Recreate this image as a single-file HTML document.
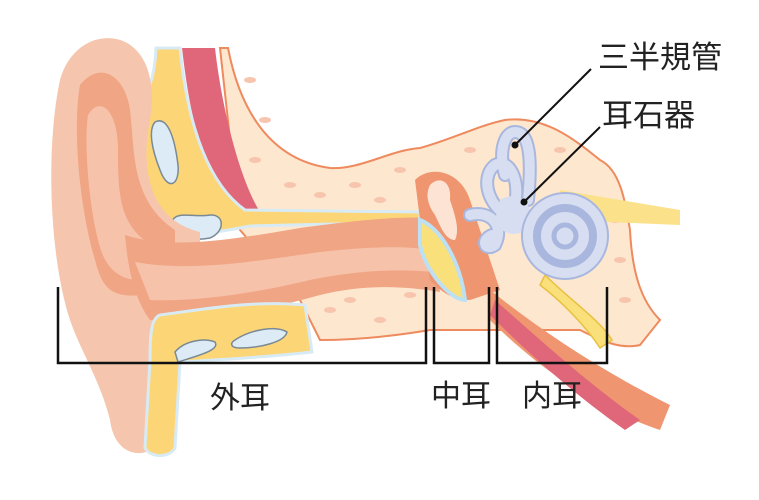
<!DOCTYPE html>
<html><head><meta charset="utf-8"><style>
html,body{margin:0;padding:0;background:#fff;}
svg{display:block;}
text{font-family:"Liberation Sans","Noto Sans CJK JP",sans-serif;fill:#222;}
</style></head><body>
<svg width="759" height="500" viewBox="0 0 759 500" xmlns="http://www.w3.org/2000/svg">
<!-- bone region -->
<path d="M228,48 C240,110 270,160 330,168 C360,170 390,150 420,148 C450,140 480,125 505,120 C545,115 575,140 600,160 C620,170 625,200 630,230 C632,270 640,300 660,320 L640,345 C620,350 600,340 580,330 L430,330 C400,335 360,340 320,340 L300,300 L240,230 L220,48 Z" fill="#fde8cf" stroke="#ee8a5e" stroke-width="2"/>
<g fill="#f7c4ad">
<ellipse cx="250" cy="80" rx="6" ry="3"/><ellipse cx="265" cy="120" rx="6" ry="3"/><ellipse cx="255" cy="160" rx="6" ry="3"/><ellipse cx="290" cy="185" rx="6" ry="3"/><ellipse cx="320" cy="195" rx="6" ry="3"/><ellipse cx="355" cy="185" rx="6" ry="3"/><ellipse cx="380" cy="200" rx="6" ry="3"/><ellipse cx="400" cy="170" rx="6" ry="3"/><ellipse cx="470" cy="150" rx="6" ry="3"/><ellipse cx="560" cy="150" rx="6" ry="3"/><ellipse cx="615" cy="220" rx="6" ry="3"/><ellipse cx="620" cy="260" rx="6" ry="3"/><ellipse cx="625" cy="300" rx="6" ry="3"/><ellipse cx="350" cy="300" rx="6" ry="3"/><ellipse cx="380" cy="320" rx="6" ry="3"/><ellipse cx="330" cy="310" rx="6" ry="3"/><ellipse cx="410" cy="295" rx="6" ry="3"/>
</g>
<!-- top muscle -->
<path d="M182,48 L215,48 C222,110 240,180 260,212 L235,214 C205,180 190,120 182,48 Z" fill="#e0677a"/>
<!-- upper cartilage -->
<path d="M156,48 L180,48 C188,130 210,185 245,210 L420,212 L420,222 L250,226 C200,236 160,240 150,220 C135,190 130,150 135,120 C145,100 155,80 156,48 Z" fill="#fcd676" stroke="#d8ebf5" stroke-width="3"/>
<path d="M155,122 C168,115 175,140 178,165 C180,185 168,192 160,170 C152,150 148,130 155,122 Z" fill="#dcebf5" stroke="#7a8a95" stroke-width="1.5"/>
<path d="M172,222 C175,210 195,218 210,215 C225,214 225,232 210,238 C190,242 170,235 172,222 Z" fill="#dcebf5" stroke="#7a8a95" stroke-width="1.5"/>
<!-- auricle -->
<path d="M95,40 C130,30 160,60 150,120 C140,170 150,220 200,232 L200,300 C175,310 160,360 160,440 C150,460 115,460 110,420 C100,380 80,350 70,320 C50,260 45,150 60,80 C66,58 80,45 95,40 Z" fill="#f6c5ad"/>
<path d="M80,85 C100,60 125,75 130,110 C135,150 130,200 175,230 L175,290 C120,300 105,300 95,260 C80,210 72,130 80,85 Z" fill="#f0a585"/>
<path d="M88,115 C100,95 118,110 118,150 C118,200 120,230 160,250 L160,280 C120,285 105,270 98,240 C88,200 84,140 88,115 Z" fill="#f6c2aa"/>
<!-- ear canal -->
<path d="M125,235 C170,250 230,240 300,228 C360,220 400,216 430,218 L440,292 C400,285 360,285 320,295 C260,312 200,322 150,320 C135,300 128,270 125,235 Z" fill="#f0a585"/>
<path d="M135,262 C190,272 250,262 320,252 C370,246 410,246 430,250 L432,272 C390,268 350,272 310,280 C260,292 200,302 150,300 Z" fill="#f6c2aa"/>
<!-- lower cartilage -->
<path d="M160,315 C200,310 250,300 305,305 L312,352 C260,358 210,360 180,362 L175,448 C170,458 150,458 145,448 L150,360 C150,330 152,318 160,315 Z" fill="#fcd676" stroke="#d8ebf5" stroke-width="3"/>
<path d="M175,352 C185,340 205,338 215,342 C220,350 200,355 178,362 Z" fill="#dcebf5" stroke="#7a8a95" stroke-width="1.5"/>
<path d="M235,340 C250,330 275,325 287,332 C285,342 260,348 240,348 C230,348 230,343 235,340 Z" fill="#dcebf5" stroke="#7a8a95" stroke-width="1.5"/>
<!-- middle ear cavity -->
<path d="M415,180 C430,165 460,170 470,200 C480,230 490,260 500,290 L470,300 C450,300 440,290 430,280 L420,220 Z" fill="#ef9670"/>
<path d="M430,185 C440,175 452,182 450,200 C455,215 460,230 455,240 C445,240 440,225 435,215 C428,205 425,195 430,185 Z" fill="#fde3d3"/>
<!-- eardrum -->
<path d="M420,220 C440,228 460,260 465,300 C450,300 425,270 420,245 Z" fill="#fae07a" stroke="#bde0f2" stroke-width="4"/>
<!-- lower muscle / tube -->
<path d="M490,290 C540,330 600,370 670,405 L660,430 C600,410 540,370 490,320 Z" fill="#ef9670"/>
<path d="M495,300 C540,340 590,385 640,420 L625,430 C575,395 530,355 490,315 Z" fill="#e0677a"/>
<!-- nerve -->
<path d="M545,275 C570,300 600,320 612,340 L600,348 C585,325 560,300 540,285 Z" fill="#fae07a" stroke="#e8c040" stroke-width="1.5"/>
<path d="M560,190 L680,210 L680,225 L560,220 Z" fill="#fbe28a"/>
<!-- canals -->
<g fill="none" stroke="#a9b7de" stroke-width="14" stroke-linecap="round">
<path d="M505,175 C498,150 505,132 515,132 C530,132 532,160 528,200"/>
<path d="M505,215 C485,200 482,175 495,165 C510,158 520,180 515,205"/>
<path d="M470,215 C490,210 505,225 495,245 C485,252 480,240 492,235"/>
</g>
<g fill="none" stroke="#d7def2" stroke-width="10" stroke-linecap="round">
<path d="M505,175 C498,150 505,132 515,132 C530,132 532,160 528,200"/>
<path d="M505,215 C485,200 482,175 495,165 C510,158 520,180 515,205"/>
<path d="M470,215 C490,210 505,225 495,245 C485,252 480,240 492,235"/>
</g>
<path d="M500,200 C515,190 535,200 530,225 C520,240 500,235 495,220 Z" fill="#d7def2"/>
<circle cx="565" cy="236" r="43" fill="#d7def2" stroke="#a9b7de" stroke-width="2"/>
<circle cx="565" cy="236" r="28" fill="none" stroke="#a9b7de" stroke-width="8"/>
<circle cx="565" cy="236" r="11" fill="none" stroke="#a9b7de" stroke-width="5"/>
<!-- leaders -->
<line x1="515" y1="145" x2="591" y2="69" stroke="#111" stroke-width="2"/>
<circle cx="515" cy="145" r="3.5" fill="#111"/>
<line x1="524" y1="202" x2="600" y2="127" stroke="#111" stroke-width="2"/>
<circle cx="524" cy="202" r="3.5" fill="#111"/>
<!-- brackets -->
<g fill="none" stroke="#111" stroke-width="2.5">
<path d="M58,287 V363 H426 V287"/>
<path d="M434,287 V363 H489 V287"/>
<path d="M497,287 V363 H607 V287"/>
</g>
<text x="598" y="68" font-size="31">三半規管</text>
<text x="602" y="126" font-size="31">耳石器</text>
<text x="210" y="408" font-size="30">外耳</text>
<text x="431" y="406" font-size="30">中耳</text>
<text x="522" y="406" font-size="30">内耳</text>
</svg>
</body></html>
